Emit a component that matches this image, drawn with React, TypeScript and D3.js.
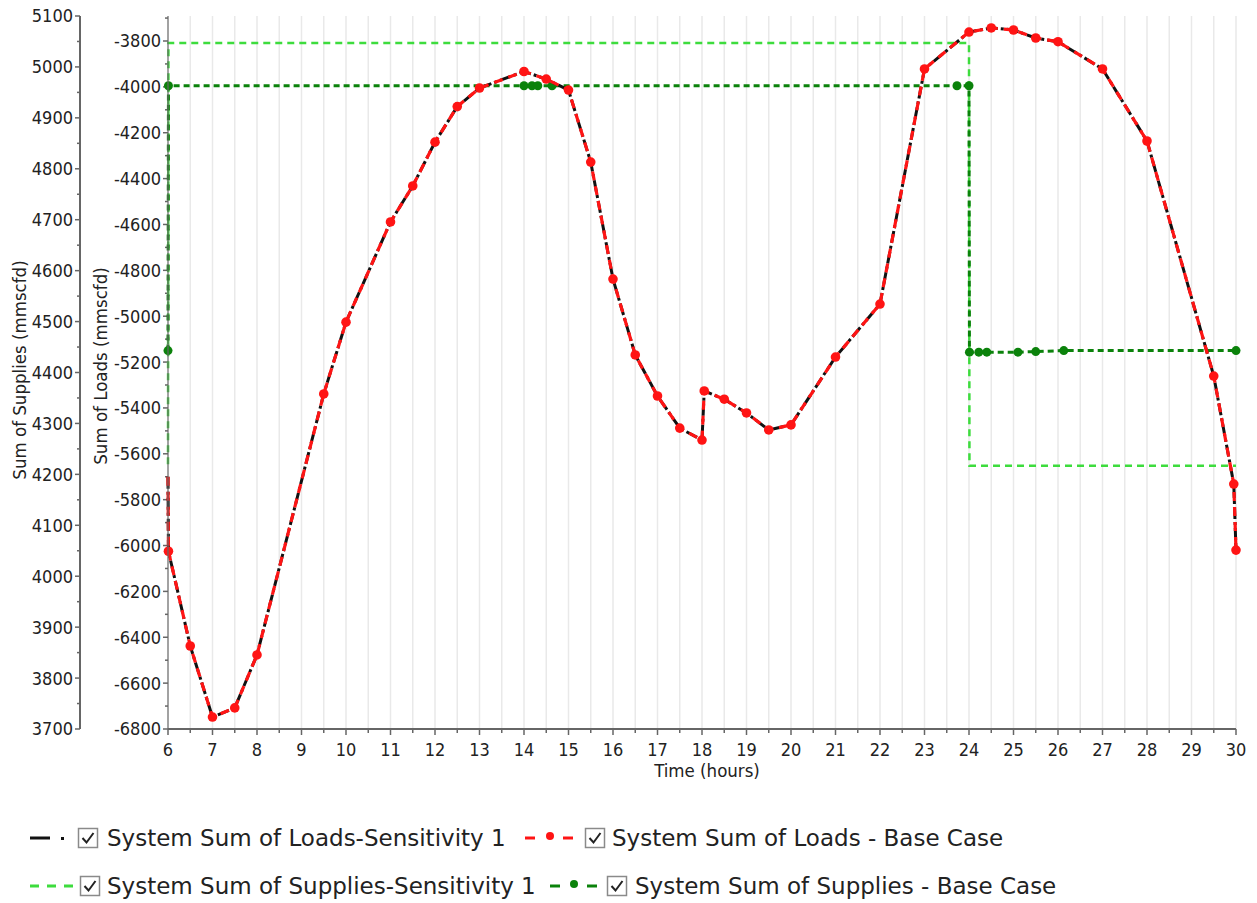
import React from "react";
import * as d3 from "d3";

const loadHours = [6, 6.01, 6.5, 7, 7.5, 8, 9.5, 10, 11, 11.5, 12, 12.5, 13, 14, 14.5, 15, 15.5, 16, 16.5, 17, 17.5, 18, 18.05, 18.5, 19, 19.5, 20, 21, 22, 23, 24, 24.5, 25, 25.5, 26, 27, 28, 29.5, 29.95, 30];
const loadsBase = [-5700, -6025, -6438, -6748, -6708, -6477, -5339, -5026, -4589, -4432, -4241, -4086, -4005, -3933, -3966, -4014, -4328, -4838, -5169, -5348, -5488, -5540, -5326, -5362, -5422, -5496, -5474, -5178, -4947, -3922, -3761, -3743, -3752, -3787, -3803, -3922, -4236, -5261, -5732, -6020];
const loadsSens = loadsBase.slice();

const supBaseHours = [6, 6.01, 14, 14.18, 14.31, 14.63, 23.73, 24, 24.01, 24.22, 24.4, 25.1, 25.5, 26.13, 30];
const supBase = [4443, 4963, 4963, 4963, 4963, 4963, 4963, 4963, 4440, 4440, 4440, 4440, 4441, 4443, 4443];
const supSensHours = [6, 6.01, 24, 24.01, 30];
const supSens = [4220, 5047, 5047, 4217, 4217];

const supTicks = d3.range(3700, 5101, 100);
const loadTicks = d3.range(-6800, -3799, 200);
const hourTicks = d3.range(6, 31, 1);

const legendRow1 = ["System Sum of Loads-Sensitivity 1", "System Sum of Loads - Base Case"];
const legendRow2 = ["System Sum of Supplies-Sensitivity 1", "System Sum of Supplies - Base Case"];

const FONT = "Tahoma, 'DejaVu Sans Condensed', 'DejaVu Sans', sans-serif";
const LEGEND_FONT = "Tahoma, 'DejaVu Sans', sans-serif";

function CheckBox({ x, y }: { x: number; y: number }) {
  return (
    <g>
      <rect x={x + 0.5} y={y + 0.5} width={19} height={19} fill="#fff" stroke="#8a8a8a" strokeWidth={1.5} />
      <path d={`M${x + 4.5},${y + 10} L${x + 8.5},${y + 14.5} L${x + 15.5},${y + 5}`} fill="none" stroke="#222" strokeWidth={2} />
    </g>
  );
}

export default function App() {
  const x = d3.scaleLinear().domain([6, 30]).range([168, 1236]);
  const ySup = d3.scaleLinear().domain([3700, 5100]).range([729, 16]);
  const yLoad = d3.scaleLinear().domain([-6800, -3691]).range([729, 16]);

  const loadLine = d3.line<number>().x((_, i) => x(loadHours[i])).y((d) => yLoad(d));
  const supBaseLine = d3.line<number>().x((_, i) => x(supBaseHours[i])).y((d) => ySup(d));
  const supSensLine = d3.line<number>().x((_, i) => x(supSensHours[i])).y((d) => ySup(d));

  const gridHours = d3.range(6.5, 30.01, 0.5);
  const supMinor = d3.range(3750, 5100, 100);
  const loadMinor = d3.range(-6700, -3690, 200);
  const hourMinor = d3.range(6.5, 30, 1);

  const axisColor = "#666";
  const darkGreen = "#0b820b";
  const lightGreen = "#3ddc3d";

  return (
    <div style={{ position: "absolute", left: 0, top: 0 }}>
      <svg width={1257} height={903} style={{ display: "block", background: "#fff" }} fontFamily={FONT}>
        {/* grid */}
        {gridHours.map((h) => (
          <line key={"g" + h} x1={x(h)} x2={x(h)} y1={16} y2={729} stroke="#e9e9e9" strokeWidth={1.5} />
        ))}

        {/* left (supplies) axis */}
        <line x1={80} x2={80} y1={16} y2={729} stroke={axisColor} strokeWidth={2} />
        {supTicks.map((t) => (
          <g key={"s" + t}>
            <line x1={75} x2={80} y1={ySup(t)} y2={ySup(t)} stroke={axisColor} strokeWidth={1.5} />
            <text x={73} y={ySup(t)} dy="0.36em" textAnchor="end" fontSize={18} fill="#222">{t}</text>
          </g>
        ))}
        {supMinor.map((t) => (
          <line key={"sm" + t} x1={77} x2={80} y1={ySup(t)} y2={ySup(t)} stroke={axisColor} strokeWidth={1.5} />
        ))}

        {/* right (loads) axis */}
        {loadTicks.map((t) => (
          <g key={"l" + t}>
            <line x1={163} x2={168} y1={yLoad(t)} y2={yLoad(t)} stroke={axisColor} strokeWidth={1.5} />
            <text x={161} y={yLoad(t)} dy="0.36em" textAnchor="end" fontSize={18} fill="#222">{t}</text>
          </g>
        ))}
        {loadMinor.map((t) => (
          <line key={"lm" + t} x1={165} x2={168} y1={yLoad(t)} y2={yLoad(t)} stroke={axisColor} strokeWidth={1.5} />
        ))}

        {/* x axis */}
        {hourTicks.map((h) => (
          <g key={"h" + h}>
            <line x1={x(h)} x2={x(h)} y1={729} y2={735} stroke={axisColor} strokeWidth={1.5} />
            <text x={x(h)} y={756} textAnchor="middle" fontSize={18} fill="#222">{h}</text>
          </g>
        ))}
        {hourMinor.map((h) => (
          <line key={"hm" + h} x1={x(h)} x2={x(h)} y1={729} y2={733} stroke={axisColor} strokeWidth={1.5} />
        ))}

        {/* axis titles */}
        <text transform="translate(26,370) rotate(-90)" textAnchor="middle" fontSize={18.5} fill="#222">Sum of Supplies (mmscfd)</text>
        <text transform="translate(107,366) rotate(-90)" textAnchor="middle" fontSize={18.5} fill="#222">Sum of Loads (mmscfd)</text>
        <text x={707} y={777} textAnchor="middle" fontSize={18.5} fill="#222">Time (hours)</text>

        {/* series */}
        <path d={supSensLine(supSens) || ""} fill="none" stroke={lightGreen} strokeWidth={2.5} strokeDasharray="7,5" />
        <path d={supBaseLine(supBase) || ""} fill="none" stroke={darkGreen} strokeWidth={3} strokeDasharray="6,4" />
        {supBase.map((v, i) => (
          <circle key={"sb" + i} cx={x(supBaseHours[i])} cy={ySup(v)} r={4.5} fill={darkGreen} />
        ))}
        <path d={loadLine(loadsSens) || ""} fill="none" stroke="#111" strokeWidth={3} strokeDasharray="12,3,3,3" />
        <path d={loadLine(loadsBase) || ""} fill="none" stroke="#ff1414" strokeWidth={3.2} strokeDasharray="9,6" />
        {loadsBase.map((v, i) =>
          i === 0 ? null : <circle key={"lb" + i} cx={x(loadHours[i])} cy={yLoad(v)} r={4.8} fill="#ff1414" />
        )}

        {/* left/bottom plot axes on top */}
        <line x1={168} x2={168} y1={16} y2={729} stroke={axisColor} strokeWidth={2} opacity={0.6} />
        <line x1={168} x2={1236} y1={729} y2={729} stroke={axisColor} strokeWidth={2} />

        {/* legend */}
        <g fontSize={23} fill="#222" fontFamily={LEGEND_FONT}>
          <line x1={30} x2={50} y1={838} y2={838} stroke="#111" strokeWidth={3} />
          <rect x={61} y={837} width={3} height={3} fill="#111" />
          <CheckBox x={78} y={828} />
          <text x={107} y={846}>{legendRow1[0]}</text>

          <line x1={525} x2={535} y1={838} y2={838} stroke="#ff1414" strokeWidth={3} />
          <circle cx={550} cy={836} r={4} fill="#ff1414" />
          <line x1={563} x2={573} y1={838} y2={838} stroke="#ff1414" strokeWidth={3} />
          <CheckBox x={585} y={828} />
          <text x={612} y={846}>{legendRow1[1]}</text>

          <line x1={30} x2={77} y1={886} y2={886} stroke={lightGreen} strokeWidth={3} strokeDasharray="9,8" />
          <CheckBox x={80} y={876} />
          <text x={107} y={894}>{legendRow2[0]}</text>

          <line x1={550} x2={560} y1={886} y2={886} stroke={darkGreen} strokeWidth={3} />
          <circle cx={574} cy={884} r={4} fill={darkGreen} />
          <line x1={587} x2={597} y1={886} y2={886} stroke={darkGreen} strokeWidth={3} />
          <CheckBox x={607} y={876} />
          <text x={635} y={894}>{legendRow2[1]}</text>
        </g>
      </svg>
    </div>
  );
}
